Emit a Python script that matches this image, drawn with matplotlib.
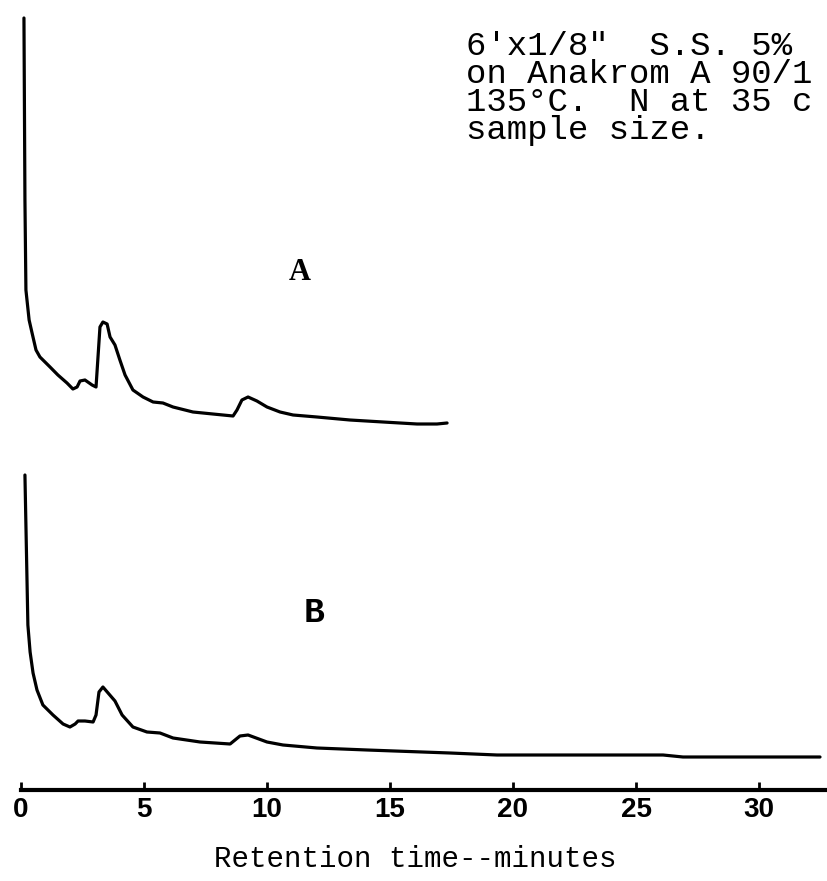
import matplotlib.pyplot as plt

# recorder trace A (upper run): retention time (min) vs pen height
time_a = [0.12, 0.16, 0.20, 0.33, 0.45, 0.61, 0.77, 1.18, 1.50, 1.87, 2.11, 2.28,
          2.40, 2.60, 2.89, 3.05, 3.21, 3.33, 3.50, 3.62, 3.82, 4.02, 4.23, 4.55,
          4.96, 5.37, 5.77, 6.18, 6.99, 7.80, 8.62, 8.78, 8.98, 9.23, 9.59, 10.0,
          10.53, 11.06, 12.03, 13.37, 14.72, 16.10, 16.91, 17.32]
resp_a = [772, 590, 500, 470, 457, 440, 433, 423, 415, 407, 401, 403,
          409, 410, 405, 403, 463, 468, 466, 453, 445, 430, 415, 400,
          393, 388, 387, 383, 378, 376, 374, 380, 390, 393, 389, 383,
          378, 375, 373, 370, 368, 366, 366, 367]

# recorder trace B (lower run)
time_b = [0.16, 0.22, 0.28, 0.37, 0.49, 0.65, 0.89, 1.30, 1.71, 1.99, 2.20, 2.32,
          2.60, 2.93, 3.05, 3.17, 3.33, 3.54, 3.82, 4.11, 4.55, 5.12, 5.65, 6.18,
          7.28, 8.50, 8.70, 8.90, 9.23, 10.0, 10.65, 12.03, 14.07, 17.44, 19.35,
          26.10, 26.91, 32.48]
resp_b = [315, 240, 165, 138, 117, 100, 85, 75, 66, 63, 66, 69,
          69, 68, 75, 98, 103, 97, 89, 75, 63, 58, 57, 52,
          48, 46, 50, 54, 55, 48, 45, 42, 40, 37, 35,
          35, 33, 33]

tick_values = [0, 5, 10, 15, 20, 25, 30]
note_lines = ["6'x1/8\"  S.S. 5%", "on Anakrom A 90/1", "135°C.  N at 35 c",
              "sample size."]

mono = ['Liberation Mono', 'DejaVu Sans Mono']

fig = plt.figure(figsize=(8.28, 8.81), dpi=100)
ax = fig.add_axes([0, 0, 1, 1])
ax.set_xlim(-21 / 24.6, 807 / 24.6)
ax.set_ylim(-91, 790)

ax.plot(time_a, resp_a, color='black', lw=2.3, solid_capstyle='round')
ax.plot(time_b, resp_b, color='black', lw=2.3, solid_capstyle='round')

# time axis drawn as a heavy base line with small upward ticks
for side in ['left', 'right', 'top']:
    ax.spines[side].set_visible(False)
ax.spines['bottom'].set_position(('data', 0))
ax.spines['bottom'].set_linewidth(3)
ax.spines['bottom'].set_bounds(0, 40)
ax.set_yticks([])
ax.set_xticks(tick_values)
ax.set_xticklabels([str(v) for v in tick_values], fontsize=20, fontweight='bold',
                   family=['Liberation Sans', 'DejaVu Sans'])
ax.tick_params(axis='x', direction='in', length=6, width=2, pad=5)

fig.text(415 / 828, 1 - 859 / 881, "Retention time--minutes", ha='center', va='center',
         fontsize=21, family=mono)

ax.text(300 / 828, 1 - 272 / 881, "A", transform=fig.transFigure, ha='center',
        va='center', fontsize=22, fontweight='bold', family=['Liberation Serif', 'DejaVu Serif'])
ax.text(314 / 828, 1 - 612 / 881, "B", transform=fig.transFigure, ha='center',
        va='center', fontsize=25, fontweight='bold', family=mono)

for i, line in enumerate(note_lines):
    fig.text(466 / 828, 1 - (55 + 28 * i) / 881, line, ha='left', va='baseline',
             fontsize=24.5, family=mono)

fig.savefig('out.png', dpi=100)
